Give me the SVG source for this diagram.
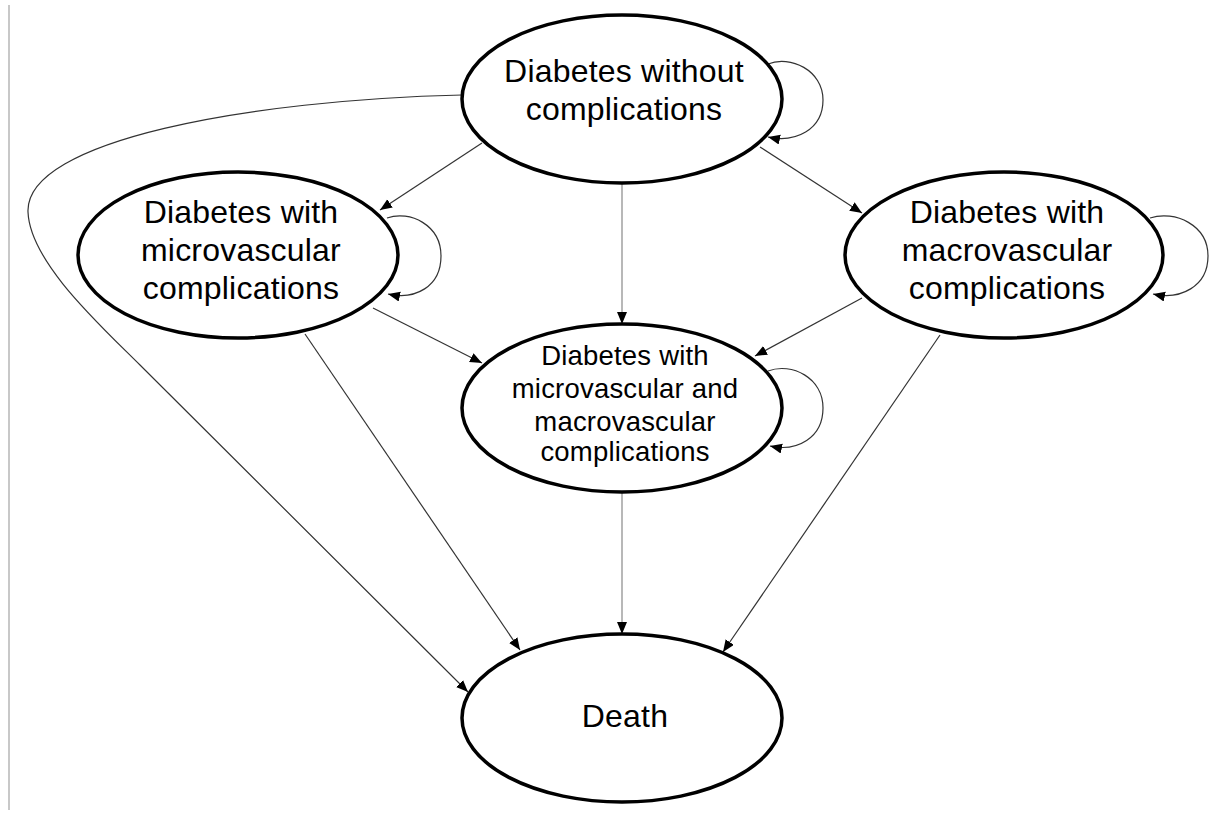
<svg xmlns="http://www.w3.org/2000/svg" width="1221" height="813" viewBox="0 0 1221 813">
<style>
.node ellipse{fill:#fff;stroke:#000;stroke-width:3.5}
.node text{font-family:"Liberation Sans",Arial,sans-serif;font-size:32px;fill:#000;text-anchor:middle;letter-spacing:0.2px}
.node.small text{font-size:27.5px}
.edge{fill:none;stroke:#333;stroke-width:1.2}
.edge.v{stroke:#b8b8b8;stroke-width:2}
</style>
<defs>
<marker id="arr" markerUnits="userSpaceOnUse" markerWidth="13" markerHeight="11" refX="12" refY="5" orient="auto">
<path d="M0,0 L12,5 L0,10 z" fill="#000"/>
</marker>
</defs>
<rect width="1221" height="813" fill="#fff"/>
<line x1="9" y1="5" x2="9" y2="810" stroke="#c8c8c8" stroke-width="2"/>
<g id="connectors">
<path class="edge" d="M482,143 L380,210" marker-end="url(#arr)"/>
<path class="edge" d="M760,147 L862,213" marker-end="url(#arr)"/>
<path class="edge v" d="M622,184 L622,324" marker-end="url(#arr)"/>
<path class="edge" d="M373,308 L482,363" marker-end="url(#arr)"/>
<path class="edge" d="M862,298 L755,356" marker-end="url(#arr)"/>
<path class="edge" d="M305,334 L520,650" marker-end="url(#arr)"/>
<path class="edge v" d="M622,493 L622,634" marker-end="url(#arr)"/>
<path class="edge" d="M940,335 L723,652" marker-end="url(#arr)"/>
<path class="edge" d="M462,95 C250,100 25,140 28,212 C30,262 100,325 140,365 L468,692" marker-end="url(#arr)"/>
<path class="edge" d="M768,64 C790,55 823,70 823,100 C823,130 795,143 768,137" marker-end="url(#arr)"/>
<path class="edge" d="M387,218 C410,210 441,225 441,256 C441,287 415,300 388,294" marker-end="url(#arr)"/>
<path class="edge" d="M1150,218 C1175,210 1208,225 1208,256 C1208,287 1180,300 1153,294" marker-end="url(#arr)"/>
<path class="edge" d="M768,371 C792,362 823,378 823,408 C823,438 797,452 770,446" marker-end="url(#arr)"/>
</g>
<g id="n-none" class="node">
<ellipse cx="622" cy="99" rx="160" ry="84"/>
<text x="624" y="82">Diabetes without</text>
<text x="624" y="120">complications</text>
</g>
<g id="n-micro" class="node">
<ellipse cx="238" cy="255" rx="160" ry="83"/>
<text x="241" y="223">Diabetes with</text>
<text x="241" y="261">microvascular</text>
<text x="241" y="299">complications</text>
</g>
<g id="n-macro" class="node">
<ellipse cx="1004" cy="255" rx="159" ry="83"/>
<text x="1007" y="223">Diabetes with</text>
<text x="1007" y="261">macrovascular</text>
<text x="1007" y="299">complications</text>
</g>
<g id="n-both" class="node small">
<ellipse cx="622" cy="408" rx="160" ry="84"/>
<text x="625" y="365">Diabetes with</text>
<text x="625" y="398">microvascular and</text>
<text x="625" y="431">macrovascular</text>
<text x="625" y="461">complications</text>
</g>
<g id="n-death" class="node">
<ellipse cx="622" cy="718" rx="160" ry="84"/>
<text x="625" y="727">Death</text>
</g>
</svg>
